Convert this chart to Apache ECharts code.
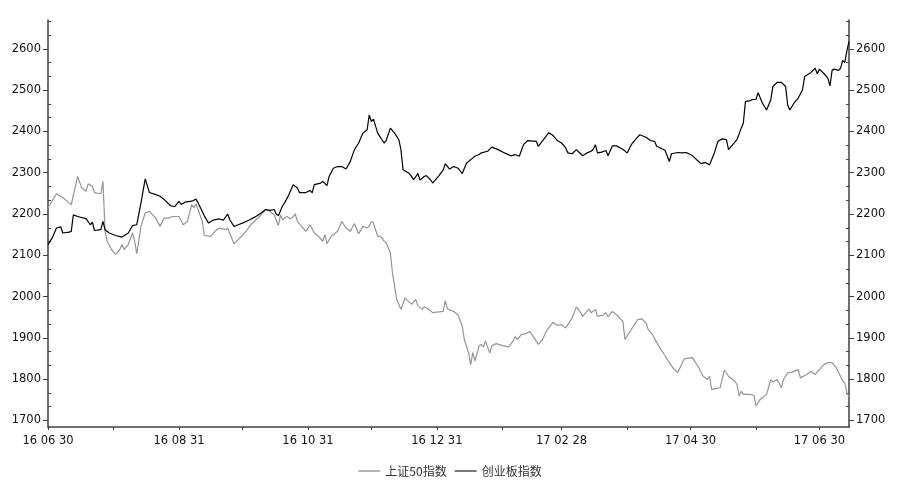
<!DOCTYPE html>
<html>
<head>
<meta charset="utf-8">
<script src="https://cdn.jsdelivr.net/npm/echarts@6/dist/echarts.min.js"></script>
<style>
html,body{margin:0;padding:0;background:#fff;}
#chart{width:900px;height:482px;}
</style>
</head>
<body>
<div id="chart"></div>
<script>
// x values are calendar-day offsets from 2016-06-30
const labelDays = [0, 62, 123, 184, 243, 304, 365];
const tickLabels = ['16 06 30', '16 08 31', '16 10 31', '16 12 31', '17 02 28', '17 04 30', '17 06 30'];
const monthEndDays = [0, 31, 62, 92, 123, 153, 184, 215, 243, 274, 304, 335, 365];
const yMajorTicks = [1700, 1800, 1900, 2000, 2100, 2200, 2300, 2400, 2500, 2600];
const yMinorTicks = [1733.3, 1766.7, 1833.3, 1866.7, 1933.3, 1966.7, 2033.3, 2066.7, 2133.3, 2166.7,
  2233.3, 2266.7, 2333.3, 2366.7, 2433.3, 2466.7, 2533.3, 2566.7, 2633.3, 2666.7];

const seriesNames = ['上证50指数', '创业板指数'];

// gray line
const grayDays = [0,4,7,10,11,14,16,18,19,21,22,25,26,27,28,30,32,34,35,36,38,40,41,42,44,46,48,51,53,55,57,59,62,64,66,68,69,70,73,74,77,79,81,84,85,88,90,93,96,100,103,105,107,109,110,111,113,115,117,118,121,122,124,126,128,130,131,132,134,137,139,141,143,145,147,149,151,152,153,154,156,157,158,159,160,162,163,165,167,169,171,172,174,175,177,178,180,182,185,187,188,189,192,194,196,197,199,200,201,202,204,205,206,207,209,210,212,215,218,220,221,222,224,226,228,230,232,234,236,239,241,243,245,248,250,252,253,256,257,259,260,263,264,265,267,269,272,273,275,277,279,281,283,284,286,288,290,292,294,296,298,301,305,308,310,312,313,314,316,318,320,322,325,326,327,328,329,332,334,335,337,340,342,343,345,347,348,350,352,355,356,359,361,363,365,367,369,371,373,375,376,377,378,379];
const grayValues = [2215,2249,2240,2227,2223,2291,2263,2255,2273,2267,2252,2249,2279,2158,2134,2114,2102,2114,2126,2114,2126,2154,2134,2104,2170,2203,2206,2190,2170,2190,2190,2194,2194,2174,2182,2223,2215,2225,2182,2148,2146,2158,2166,2162,2166,2128,2138,2154,2174,2194,2211,2206,2198,2172,2198,2186,2194,2188,2200,2182,2164,2158,2174,2154,2146,2134,2150,2128,2146,2158,2182,2166,2158,2177,2152,2170,2166,2170,2182,2178,2146,2146,2142,2134,2130,2106,2057,1993,1969,1997,1986,1981,1993,1978,1969,1975,1970,1961,1963,1964,1990,1970,1964,1956,1928,1896,1864,1835,1864,1844,1880,1884,1878,1892,1864,1880,1886,1881,1878,1892,1903,1896,1908,1910,1915,1900,1884,1896,1918,1938,1930,1932,1924,1948,1975,1961,1952,1970,1961,1969,1952,1956,1961,1951,1964,1956,1940,1896,1912,1928,1944,1946,1936,1920,1908,1889,1872,1856,1840,1825,1816,1849,1852,1827,1807,1799,1807,1775,1777,1779,1822,1807,1795,1787,1759,1771,1763,1763,1761,1735,1751,1763,1799,1793,1799,1779,1799,1815,1817,1823,1803,1811,1819,1811,1823,1835,1840,1840,1827,1807,1795,1791,1767,1757];

// black line
const blackDays = [0,2,4,6,7,10,11,12,14,18,20,21,22,25,26,27,29,32,35,38,40,42,44,46,48,51,53,55,58,60,62,63,65,68,70,71,74,76,78,81,83,85,86,88,90,92,95,98,101,103,105,107,108,109,111,112,114,116,118,119,122,124,125,126,129,130,132,133,135,137,139,141,143,145,147,149,151,152,153,154,156,159,160,162,164,166,167,168,171,172,173,175,176,178,179,181,182,185,187,188,190,192,194,196,198,201,202,204,205,208,210,213,216,219,221,223,225,227,231,232,235,237,239,241,243,245,246,248,250,252,253,255,257,258,259,260,262,264,265,267,269,272,274,276,278,280,283,285,287,288,291,292,294,295,298,300,302,305,307,309,311,313,315,317,319,321,322,324,326,328,329,330,332,333,335,336,338,340,342,343,345,347,349,350,351,353,355,357,358,361,363,364,365,367,369,370,371,372,374,375,376,377,378,379];
const blackValues = [2126,2142,2166,2169,2154,2156,2158,2198,2194,2189,2174,2180,2160,2162,2182,2162,2154,2148,2144,2154,2172,2174,2227,2285,2252,2247,2243,2235,2220,2218,2231,2223,2229,2231,2236,2227,2195,2178,2185,2188,2185,2200,2186,2170,2174,2178,2185,2193,2203,2211,2209,2211,2200,2196,2220,2227,2247,2271,2263,2252,2252,2257,2251,2271,2275,2279,2269,2291,2311,2315,2315,2309,2327,2356,2372,2396,2404,2440,2424,2430,2396,2372,2378,2408,2396,2380,2356,2307,2298,2291,2283,2298,2282,2291,2293,2283,2275,2293,2307,2322,2309,2315,2311,2298,2323,2336,2340,2344,2348,2352,2362,2356,2348,2341,2344,2340,2368,2378,2376,2364,2384,2397,2390,2378,2372,2360,2348,2346,2356,2346,2341,2348,2352,2357,2368,2348,2350,2354,2341,2365,2365,2357,2348,2368,2381,2392,2386,2378,2376,2364,2357,2354,2327,2346,2349,2348,2349,2341,2331,2322,2325,2319,2344,2376,2382,2380,2356,2368,2380,2408,2420,2473,2474,2477,2478,2494,2469,2452,2477,2509,2519,2519,2509,2464,2452,2469,2481,2501,2533,2543,2553,2540,2551,2541,2529,2510,2548,2551,2548,2553,2572,2567,2595,2618];

const zip = (xs, ys) => xs.map((x, i) => [x, ys[i]]);

const axisColor = '#404040';
const labelFont = { fontFamily: 'DejaVu Sans', fontSize: 11.5, color: '#111' };
const legendColors = ['#b4b4b4', '#7a7a7a'];

function yAxisMain(pos) {
  return {
    type: 'value', position: pos, min: 1684, max: 2670,
    axisLine: { show: true, lineStyle: { color: axisColor, width: 1.5 } },
    axisTick: { show: true, customValues: yMajorTicks, length: 5, inside: false, lineStyle: { color: axisColor, width: 1 } },
    axisLabel: Object.assign({ customValues: yMajorTicks, margin: 7, formatter: v => String(v) }, labelFont),
    splitLine: { show: false }
  };
}
function yAxisMinor(pos) {
  return {
    type: 'value', position: pos, min: 1684, max: 2670,
    axisLine: { show: false },
    axisTick: { show: true, customValues: yMinorTicks, length: 3, inside: true, lineStyle: { color: axisColor, width: 1 } },
    axisLabel: { show: false },
    splitLine: { show: false }
  };
}

const chart = echarts.init(document.getElementById('chart'), null, { renderer: 'canvas' });
chart.setOption({
  animation: false,
  backgroundColor: '#ffffff',
  grid: { left: 48, right: 51, top: 20, bottom: 55, containLabel: false },
  legend: {
    left: 'center', top: 460, itemWidth: 22, itemHeight: 2, itemGap: 8,
    textStyle: { fontFamily: 'Noto Sans CJK SC', fontSize: 12, color: '#333' },
    data: seriesNames.map((n, i) => ({
      name: n,
      icon: 'rect',
      itemStyle: { color: legendColors[i], borderWidth: 0 },
      lineStyle: { color: legendColors[i] }
    }))
  },
  xAxis: {
    type: 'value', min: 0, max: 379,
    axisLine: { show: true, lineStyle: { color: axisColor, width: 1.5 } },
    axisTick: { show: true, customValues: monthEndDays, length: 3, lineStyle: { color: axisColor } },
    axisLabel: Object.assign({
      customValues: labelDays, margin: 8,
      formatter: v => { const k = labelDays.indexOf(v); return k >= 0 ? tickLabels[k] : ''; }
    }, labelFont),
    splitLine: { show: false }
  },
  yAxis: [yAxisMain('left'), yAxisMain('right'), yAxisMinor('left'), yAxisMinor('right')],
  series: [
    {
      name: seriesNames[0], type: 'line', yAxisIndex: 0, symbol: 'none',
      data: zip(grayDays, grayValues),
      lineStyle: { color: '#959595', width: 1.2 }, itemStyle: { color: '#959595' }
    },
    {
      name: seriesNames[1], type: 'line', yAxisIndex: 0, symbol: 'none',
      data: zip(blackDays, blackValues),
      lineStyle: { color: '#000000', width: 1.2 }, itemStyle: { color: '#000000' }
    }
  ]
});
</script>
</body>
</html>
